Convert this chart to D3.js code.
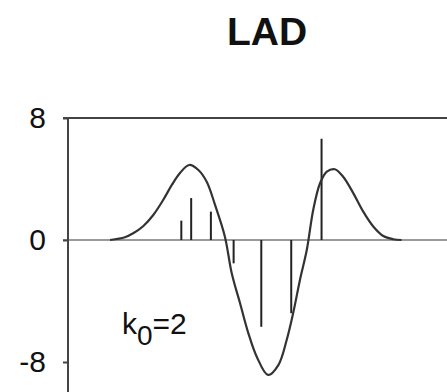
<!DOCTYPE html>
<html>
<head>
<meta charset="utf-8">
<script src="https://cdn.jsdelivr.net/npm/d3@7"></script>
<style>
  html, body { margin: 0; padding: 0; background: #fff; }
  svg { display: block; }
</style>
</head>
<body>
<svg id="chart" width="447" height="392"></svg>
<script>
// curve: smoothed profile (x in position units, y value)
const curveX = [11.1, 15.0, 17.2, 19.9, 22.5, 25.1, 27.4, 29.6, 32.0, 34.4, 36.6, 38.8, 41.4,
  43.2, 45.4, 47.6, 49.8, 52.8, 55.5, 57.7, 59.4, 61.2, 63.0, 64.7, 66.5, 68.3, 70.4,
  72.6, 75.3, 77.9, 80.6, 83.2, 85.8, 88.0];
const curveY = [0, 0.18, 0.44, 0.92, 1.64, 2.62, 3.61, 4.41, 4.92, 4.59, 3.82, 2.30, 0.22,
  -2.18, -4.15, -6.12, -7.65, -8.85, -8.2, -6.56, -4.81, -2.62, -0.66, 1.97, 3.72, 4.48, 4.64,
  4.15, 3.06, 1.86, 0.87, 0.26, 0.05, 0];

// bars: observed values
const barX = [29.9, 32.5, 37.7, 43.7, 51.0, 58.9, 66.9];
const barY = [1.27, 2.75, 1.86, -1.53, -5.69, -4.8, 6.64];

const yTicks = [8, 0, -8];
const title = 'LAD';

const svg = d3.select('#chart');
const width = +svg.attr('width');
const height = +svg.attr('height');

const x = d3.scaleLinear().domain([0, 100]).range([68, 447]);
const y = d3.scaleLinear().domain([-10, 8]).range([392.5, 118]);

const font = 'Liberation Sans, Arial, Helvetica, sans-serif';

svg.append('text')
  .attr('x', 267)
  .attr('y', 45)
  .attr('text-anchor', 'middle')
  .attr('font-family', font)
  .attr('font-weight', 'bold')
  .attr('font-size', 39)
  .attr('fill', '#111')
  .text(title);

// zero line
svg.append('line')
  .attr('x1', 63).attr('x2', width)
  .attr('y1', y(0)).attr('y2', y(0))
  .attr('stroke', '#9a9a9a')
  .attr('stroke-width', 2);

// top border
svg.append('line')
  .attr('x1', 63).attr('x2', width)
  .attr('y1', y(8)).attr('y2', y(8))
  .attr('stroke', '#444')
  .attr('stroke-width', 2);

// y axis
const yAxis = d3.axisLeft(y)
  .tickValues(yTicks)
  .tickSize(5)
  .tickPadding(17)
  .tickFormat(d => String(d));

const gy = svg.append('g')
  .attr('transform', `translate(${x(0)},0)`)
  .call(yAxis);
gy.select('.domain')
  .attr('d', `M-0,${y(8)}V${height}`)
  .attr('stroke', '#444')
  .attr('stroke-width', 2);
gy.selectAll('.tick line').attr('stroke', '#444').attr('stroke-width', 2);
gy.selectAll('.tick text')
  .attr('font-family', font)
  .attr('font-size', 30)
  .attr('fill', '#111');

// bars
svg.append('g')
  .selectAll('line')
  .data(barX.map((d, i) => ({ x: d, v: barY[i] })))
  .enter()
  .append('line')
  .attr('x1', d => x(d.x)).attr('x2', d => x(d.x))
  .attr('y1', y(0)).attr('y2', d => y(d.v))
  .attr('stroke', '#222')
  .attr('stroke-width', 2);

// curve
const line = d3.line()
  .x(d => x(d[0]))
  .y(d => y(d[1]))
  .curve(d3.curveCatmullRom);

svg.append('path')
  .datum(curveX.map((d, i) => [d, curveY[i]]))
  .attr('d', line)
  .attr('fill', 'none')
  .attr('stroke', '#333')
  .attr('stroke-width', 2.2);

// k0 label
const lab = svg.append('text')
  .attr('x', 122)
  .attr('y', 334)
  .attr('font-family', font)
  .attr('font-size', 30)
  .attr('fill', '#111');
lab.append('tspan').text('k');
lab.append('tspan').attr('font-size', 28).attr('dy', 11).text('0');
lab.append('tspan').attr('dy', -11).text('=2');
</script>
</body>
</html>
